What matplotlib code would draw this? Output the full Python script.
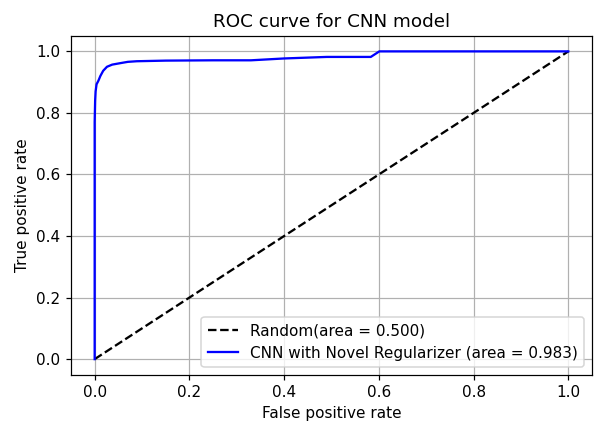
import numpy as np
import matplotlib
matplotlib.use("Agg")
import matplotlib.pyplot as plt

# ROC points
fpr = [0.0, 0.0, 0.001, 0.002, 0.004, 0.008, 0.012, 0.018, 0.026, 0.037, 0.055,
       0.070, 0.089, 0.150, 0.250, 0.330, 0.400, 0.490, 0.583, 0.601, 1.0]
tpr = [0.0, 0.77, 0.84, 0.87, 0.893, 0.905, 0.920, 0.937, 0.950, 0.957, 0.962,
       0.966, 0.968, 0.970, 0.971, 0.971, 0.977, 0.982, 0.982, 1.0, 1.0]
rand = [0.0, 1.0]

fig = plt.figure(figsize=(597 / 110, 425 / 110), dpi=110)
ax = fig.add_axes([0.1189, 0.1188, 0.8727, 0.7965])
ax.plot(rand, rand, 'k--', label='Random(area = 0.500)')
ax.plot(fpr, tpr, 'b', label='CNN with Novel Regularizer (area = 0.983)')
ax.grid()
ax.set_title('ROC curve for CNN model')
ax.set_xlabel('False positive rate')
ax.set_ylabel('True positive rate')
ax.legend(loc='lower right')
fig.savefig('out.png', dpi=110)
